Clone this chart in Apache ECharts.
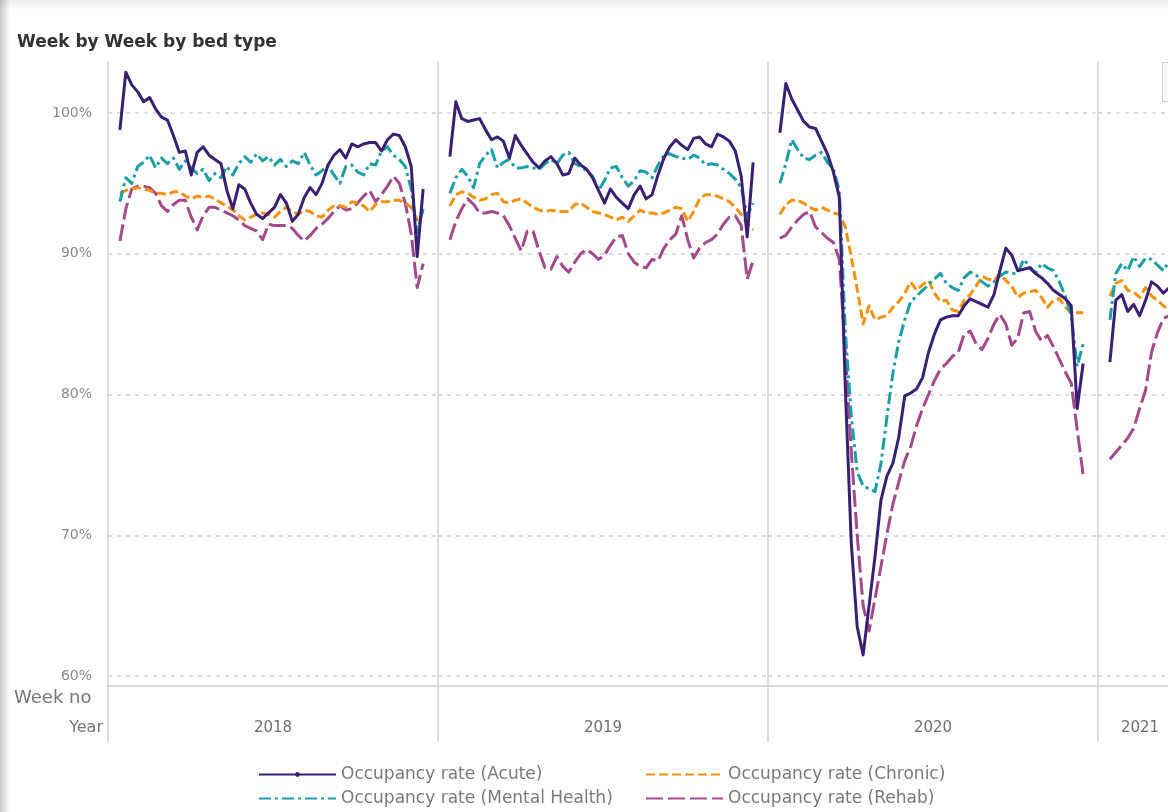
<!DOCTYPE html>
<html>
<head>
<meta charset="utf-8">
<title>Week by Week by bed type</title>
<script src="https://cdn.jsdelivr.net/npm/echarts@6/dist/echarts.min.js"></script>
<style>
  html, body { margin: 0; padding: 0; background: #fff; }
  #wrap { position: relative; width: 1168px; height: 812px; overflow: hidden; }
  /* wider than the window: the 2021 panel runs past the right edge */
  #chart { position: absolute; left: 0; top: 0; width: 1200px; height: 812px; }
  .edge-left { position: absolute; left: 0; top: 0; width: 10px; height: 812px; pointer-events: none;
    background: linear-gradient(to right, rgba(0,0,0,0.22), rgba(0,0,0,0)); }
  .edge-top { position: absolute; left: 0; top: 0; width: 1168px; height: 10px; pointer-events: none;
    background: linear-gradient(to bottom, rgba(0,0,0,0.07), rgba(0,0,0,0)); }
  .scroll-stub { position: absolute; left: 1162px; top: 62px; width: 8px; height: 38px;
    border: 1px solid #d4d4d4; border-right: none; background: #fafafa; }
</style>
</head>
<body>
<div id="wrap">
  <div id="chart"></div>
  <div class="edge-left"></div>
  <div class="edge-top"></div>
  <div class="scroll-stub"></div>
</div>
<script>
const years = ['2018', '2019', '2020', '2021']

// occupancy rate (%) per week, one array per bed type and year
const acute2018 = [98.8, 102.9, 102.0, 101.5, 100.8, 101.1, 100.3, 99.7, 99.5, 98.4, 97.2, 97.3, 95.6, 97.2, 97.6, 97.0, 96.7, 96.4, 94.5, 93.2, 94.9, 94.6, 93.6, 92.8, 92.5, 92.9, 93.3, 94.2, 93.6, 92.3, 92.8, 94.0, 94.7, 94.2, 95.0, 96.3, 97.0, 97.4, 96.8, 97.8, 97.6, 97.8, 97.9, 97.9, 97.3, 98.1, 98.5, 98.4, 97.6, 96.2, 89.8, 94.6]
const acute2019 = [96.9, 100.8, 99.6, 99.4, 99.5, 99.6, 98.8, 98.1, 98.3, 98.0, 96.8, 98.4, 97.7, 97.1, 96.5, 96.1, 96.6, 96.9, 96.4, 95.6, 95.7, 96.8, 96.3, 96.0, 95.4, 94.5, 93.6, 94.6, 94.0, 93.6, 93.2, 94.2, 94.8, 93.9, 94.2, 95.6, 96.8, 97.6, 98.1, 97.7, 97.4, 98.2, 98.3, 97.8, 97.6, 98.5, 98.3, 98.0, 97.3, 95.5, 91.2, 96.5]
const acute2020 = [98.6, 102.1, 101.0, 100.2, 99.4, 99.0, 98.9, 98.0, 97.1, 95.8, 94.0, 80.5, 69.5, 63.5, 61.5, 65.0, 68.5, 72.5, 74.2, 75.1, 77.0, 79.9, 80.1, 80.4, 81.2, 83.0, 84.3, 85.3, 85.5, 85.6, 85.6, 86.3, 86.8, 86.6, 86.4, 86.2, 87.1, 88.8, 90.4, 89.9, 88.8, 88.9, 89.0, 88.6, 88.3, 87.9, 87.4, 87.1, 86.8, 86.3, 79.0, 82.2]
const acute2021 = [82.3, 86.7, 87.1, 85.9, 86.4, 85.6, 86.7, 88.0, 87.7, 87.2, 87.6, 87.4]

const chronic2018 = [94.3, 94.5, 94.6, 94.7, 94.6, 94.5, 94.3, 94.3, 94.2, 94.4, 94.4, 94.1, 93.9, 94.1, 94.0, 94.1, 93.9, 93.6, 93.4, 93.1, 92.7, 92.4, 92.6, 92.8, 92.9, 92.8, 92.6, 93.0, 93.3, 93.0, 92.8, 93.1, 93.0, 92.7, 92.6, 93.1, 93.4, 93.4, 93.3, 93.7, 93.6, 93.4, 93.0, 93.5, 93.7, 93.7, 93.8, 93.8, 93.6, 93.3, 92.4, 93.0]
const chronic2019 = [93.4, 94.2, 94.4, 94.3, 94.0, 93.8, 93.9, 94.2, 94.3, 93.7, 93.6, 93.8, 93.9, 93.6, 93.3, 93.1, 93.0, 93.1, 93.0, 93.0, 93.0, 93.5, 93.6, 93.3, 93.0, 92.9, 92.8, 92.6, 92.4, 92.6, 92.3, 92.7, 93.1, 92.9, 92.9, 92.8, 92.9, 93.1, 93.3, 93.2, 92.3, 93.0, 93.9, 94.2, 94.2, 94.1, 93.9, 93.7, 93.3, 92.8, 92.1, 91.7]
const chronic2020 = [92.8, 93.5, 93.8, 93.8, 93.6, 93.3, 93.1, 93.3, 93.1, 92.9, 92.8, 91.9, 89.8, 87.5, 85.0, 86.3, 85.3, 85.5, 85.6, 86.2, 86.6, 87.2, 88.0, 87.4, 87.8, 88.1, 87.2, 86.6, 86.7, 86.0, 85.9, 86.7, 87.1, 87.7, 88.4, 88.2, 88.1, 88.6, 88.1, 87.7, 86.9, 87.2, 87.3, 87.4, 86.9, 86.2, 86.7, 86.8, 86.2, 85.8, 85.8, 85.8]
const chronic2021 = [87.0, 87.9, 88.1, 87.4, 87.3, 86.9, 87.6, 87.0, 86.7, 86.3, 86.0, 86.0]

const mental2018 = [93.7, 95.4, 95.0, 96.2, 96.5, 97.0, 96.1, 96.8, 96.4, 96.8, 96.0, 96.6, 96.1, 95.7, 96.0, 95.2, 95.7, 95.4, 96.2, 95.6, 96.4, 96.9, 96.5, 97.1, 96.6, 96.9, 96.3, 96.7, 96.2, 96.6, 96.4, 97.2, 96.3, 95.6, 95.9, 96.3, 95.6, 95.0, 96.2, 96.3, 95.8, 95.6, 96.4, 96.3, 97.3, 97.6, 97.0, 96.7, 96.2, 94.6, 91.5, 93.2]
const mental2019 = [94.3, 95.4, 96.0, 95.5, 94.7, 96.4, 97.0, 97.4, 96.1, 96.5, 96.7, 96.1, 96.1, 96.2, 96.1, 96.0, 96.4, 96.7, 96.4, 97.0, 97.2, 96.4, 96.2, 95.9, 95.5, 94.5, 95.2, 96.1, 96.2, 95.4, 94.8, 95.2, 95.9, 95.8, 95.4, 96.3, 97.0, 97.1, 96.9, 96.8, 96.7, 97.0, 96.8, 96.3, 96.4, 96.3, 96.0, 95.7, 95.3, 94.7, 92.7, 93.6]
const mental2020 = [95.0, 96.4, 98.1, 97.4, 96.8, 96.7, 97.0, 97.2, 96.5, 96.0, 94.5, 84.5, 78.5, 74.5, 73.5, 73.3, 73.1, 75.1, 78.4, 81.5, 83.8, 85.3, 86.6, 87.0, 87.4, 87.8, 88.2, 88.6, 87.9, 87.6, 87.4, 88.3, 88.7, 88.5, 88.0, 87.7, 88.0, 88.4, 88.7, 88.6, 88.6, 89.6, 89.1, 88.6, 89.3, 89.0, 88.8, 88.0, 87.0, 85.6, 82.0, 83.6]
const mental2021 = [85.3, 88.6, 89.3, 88.8, 89.8, 89.1, 89.7, 89.6, 89.2, 88.8, 89.5, 89.3]

const rehab2018 = [90.9, 93.2, 94.6, 94.8, 94.8, 94.7, 94.3, 93.4, 93.0, 93.5, 93.8, 93.8, 92.6, 91.7, 92.7, 93.3, 93.3, 93.1, 92.9, 92.7, 92.4, 92.0, 91.8, 91.6, 91.0, 92.1, 92.0, 92.0, 92.0, 91.8, 91.3, 90.9, 91.3, 91.8, 92.1, 92.5, 93.0, 93.4, 93.1, 93.2, 93.6, 94.1, 94.5, 93.7, 94.2, 94.8, 95.5, 95.0, 93.6, 91.4, 87.6, 89.3]
const rehab2019 = [91.0, 92.3, 93.2, 93.9, 93.5, 92.9, 92.9, 93.0, 92.9, 92.7, 92.0, 91.1, 90.2, 91.6, 91.6, 90.2, 89.0, 88.9, 89.8, 89.1, 88.7, 89.4, 90.0, 90.3, 90.0, 89.6, 89.9, 90.6, 91.2, 91.3, 90.0, 89.4, 89.1, 89.0, 89.6, 89.5, 90.4, 91.0, 91.4, 92.7, 91.0, 89.7, 90.4, 90.8, 91.0, 91.4, 92.1, 92.6, 92.7, 92.0, 88.2, 89.5]
const rehab2020 = [91.1, 91.3, 91.9, 92.4, 92.8, 93.0, 91.9, 91.5, 91.1, 90.8, 89.6, 83.0, 76.0, 70.0, 65.0, 63.2, 65.5, 67.8, 70.1, 72.2, 73.8, 75.3, 76.3, 77.8, 79.0, 80.0, 81.0, 81.8, 82.2, 82.7, 83.0, 84.3, 84.5, 83.6, 83.2, 84.0, 85.0, 85.7, 85.0, 83.5, 84.0, 85.8, 85.9, 84.5, 83.8, 84.2, 83.4, 82.5, 81.6, 80.8, 77.5, 74.3]
const rehab2021 = [75.4, 75.9, 76.4, 76.9, 77.6, 79.0, 80.3, 83.0, 84.4, 85.4, 85.6, 86.0]

const yTicks = [60, 70, 80, 90, 100]

const FONT = 'DejaVu Sans'
const AXIS_GREY = '#d4d4d4'

const bedTypes = [
  { name: 'Occupancy rate (Rehab)', color: '#a4498c', dash: [17, 5], symbol: 'none', data: [rehab2018, rehab2019, rehab2020, rehab2021] },
  { name: 'Occupancy rate (Chronic)', color: '#f2920f', dash: [9, 4], symbol: 'none', data: [chronic2018, chronic2019, chronic2020, chronic2021] },
  { name: 'Occupancy rate (Mental Health)', color: '#1a9fa6', dash: [12, 4, 3, 4], symbol: 'none', data: [mental2018, mental2019, mental2020, mental2021] },
  { name: 'Occupancy rate (Acute)', color: '#3b1f72', dash: 'solid', symbol: 'circle', data: [acute2018, acute2019, acute2020, acute2021] },
]

// one panel per year, same week spacing in each
const panelLeft = [108, 438, 768, 1098]
const panelWidth = [330, 330, 330, 84]
const pxPerWeek = 330 / 55.5
const plotTop = 62
const plotHeight = 624
const yMin = 60 - 10 / 14.075
const yMax = 100 + 51 / 14.075

const grid = []
const xAxis = []
const yAxis = []
const series = []

years.forEach((year, i) => {
  grid.push({ left: panelLeft[i], top: plotTop, width: panelWidth[i], height: plotHeight, containLabel: false })

  xAxis.push({
    type: 'value',
    gridIndex: i,
    min: -1,
    max: -1 + panelWidth[i] / pxPerWeek,
    show: false,
  })
  xAxis.push({
    type: 'category',
    gridIndex: i,
    position: 'bottom',
    data: [year],
    boundaryGap: true,
    axisLine: { show: true, onZero: false, lineStyle: { color: '#cfcfcf', width: 1.5 } },
    axisTick: { show: true, length: 56, lineStyle: { color: AXIS_GREY, width: 1.5 } },
    axisLabel: { margin: 35, color: '#6f6f6f', fontSize: 15, fontFamily: FONT },
    splitLine: { show: false },
  })

  yAxis.push({
    type: 'value',
    gridIndex: i,
    min: yMin,
    max: yMax,
    axisLine: { show: true, onZero: false, lineStyle: { color: AXIS_GREY, width: 1.5 } },
    axisTick: { show: false },
    axisLabel: {
      show: i === 0,
      showMinLabel: false,
      showMaxLabel: false,
      margin: 16,
      color: '#8a8a8a',
      fontSize: 14,
      fontFamily: FONT,
      formatter: (v) => (yTicks.some((t) => Math.abs(t - v) < 1e-6) ? Math.round(v) + '%' : ''),
    },
    splitLine: {
      show: true,
      showMinLine: false,
      showMaxLine: false,
      lineStyle: { color: '#d2d2d2', type: [4, 5], width: 1.5 },
    },
  })

  bedTypes.forEach((b) => {
    series.push({
      type: 'line',
      name: b.name,
      xAxisIndex: i * 2,
      yAxisIndex: i,
      data: b.data[i].map((v, k) => [k + 1, v]),
      showSymbol: false,
      symbol: b.symbol,
      symbolSize: 5,
      color: b.color,
      lineStyle: { color: b.color, width: 3, type: b.dash, cap: 'butt', join: 'round' },
      emphasis: { disabled: true },
    })
  })
})

const legendText = { fontSize: 17, color: '#7a7a7a', fontFamily: FONT }
const noDot = { color: 'rgba(0,0,0,0)', borderWidth: 0 }

const chart = echarts.init(document.getElementById('chart'))
chart.setOption({
  animation: false,
  backgroundColor: '#ffffff',
  title: {
    text: 'Week by Week by bed type',
    left: 12,
    top: 29,
    textStyle: { fontSize: 17, fontWeight: 'bold', color: '#333', fontFamily: FONT },
  },
  legend: [
    {
      data: ['Occupancy rate (Acute)', { name: 'Occupancy rate (Mental Health)', itemStyle: noDot }],
      orient: 'vertical',
      left: 253,
      top: 761,
      itemWidth: 77,
      itemHeight: 6,
      itemGap: 7,
      textStyle: legendText,
    },
    {
      data: [
        { name: 'Occupancy rate (Chronic)', itemStyle: noDot },
        { name: 'Occupancy rate (Rehab)', itemStyle: noDot },
      ],
      orient: 'vertical',
      left: 640,
      top: 761,
      itemWidth: 77,
      itemHeight: 6,
      itemGap: 7,
      textStyle: legendText,
    },
  ],
  graphic: [
    { type: 'text', left: 14, top: 689, style: { text: 'Week no', fontSize: 18, fill: '#777', fontFamily: FONT } },
    { type: 'text', x: 103, y: 728, style: { text: 'Year', fontSize: 16, fill: '#777', fontFamily: FONT, align: 'right', verticalAlign: 'middle' } },
  ],
  grid,
  xAxis,
  yAxis,
  series,
})
</script>
</body>
</html>
